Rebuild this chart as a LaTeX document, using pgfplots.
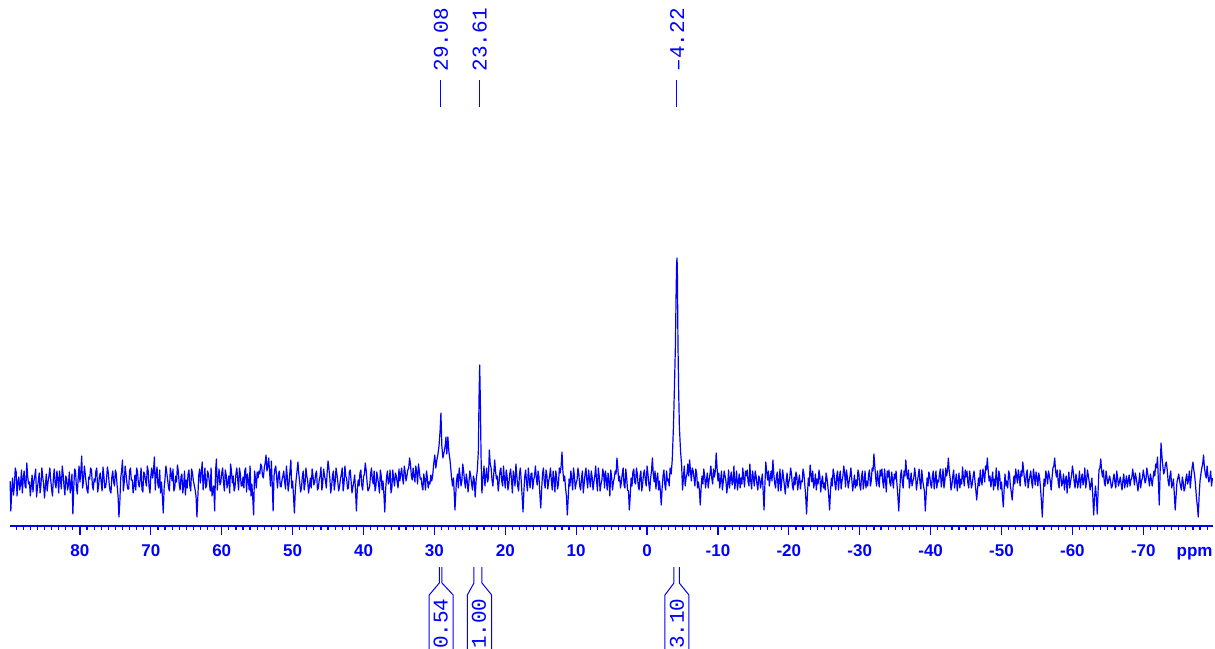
\documentclass[border=0pt]{standalone}
\usepackage{pgfplots}
\pgfplotsset{compat=1.18}
\usepackage{pgfplotstable}
\usepackage{fontspec}
\setmainfont{Liberation Sans}
\newfontfamily\monofont{Liberation Mono}

% 13C spectrum: chemical shift (ppm) vs. intensity, main sampling
\pgfplotstableread[row sep=\\]{
x y\\
89.85 45\\ 89.75 15\\ 89.5 48\\ 89.25 40\\ 89 54\\ 88.75 44\\ 88.5 36\\ 88.25 56\\ 88 47\\ 87.75 40\\
87.5 63\\ 87.25 42\\ 87 30\\ 86.75 51\\ 86.5 45\\ 86.25 57\\ 86 38\\ 85.75 53\\ 85.5 41\\ 85.25 49\\ 85 28\\
84.75 52\\ 84.5 44\\ 84.25 58\\ 84 37\\ 83.75 48\\ 83.5 42\\ 83.25 55\\ 83 33\\ 82.75 46\\ 82.5 60\\
82.25 40\\ 82 50\\ 81.75 36\\ 81.5 54\\ 81.25 41\\ 81 12\\ 80.75 57\\ 80.5 39\\ 80.25 48\\ 80 44\\
79.75 70\\ 79.5 45\\ 79.25 52\\ 79 36\\ 78.75 49\\ 78.5 58\\ 78.25 41\\ 78 47\\ 77.75 55\\ 77.5 34\\
77.25 50\\ 77 43\\ 76.75 59\\ 76.5 38\\ 76.25 47\\ 76 53\\ 75.75 35\\ 75.5 49\\ 75.25 44\\ 75 56\\
74.75 40\\ 74.5 9\\ 74.25 48\\ 74 66\\ 73.75 44\\ 73.5 52\\ 73.25 37\\ 73 55\\ 72.75 46\\ 72.5 33\\
72.25 51\\ 72 58\\ 71.75 42\\ 71.5 47\\ 71.25 36\\ 71 54\\ 70.75 45\\ 70.5 60\\ 70.25 39\\ 70 50\\
69.75 48\\ 69.5 69\\ 69.25 52\\ 69 41\\ 68.75 56\\ 68.5 44\\ 68.25 13\\ 68 47\\ 67.75 53\\ 67.5 38\\
67.25 58\\ 67 45\\ 66.75 35\\ 66.5 50\\ 66.25 61\\ 66 42\\ 65.75 49\\ 65.5 33\\ 65.25 55\\ 65 46\\
64.75 52\\ 64.5 40\\ 64.25 57\\ 64 45\\ 63.75 36\\ 63.5 9\\ 63.25 50\\ 63 43\\ 62.75 64\\ 62.5 47\\
62.25 38\\ 62 55\\ 61.75 44\\ 61.5 58\\ 61.25 36\\ 61 15\\ 60.75 67\\ 60.5 48\\ 60.25 41\\ 60 53\\
59.75 44\\ 59.5 56\\ 59.25 38\\ 59 50\\ 58.75 62\\ 58.5 43\\ 58.25 35\\ 58 52\\ 57.75 47\\ 57.5 58\\
57.25 40\\ 57 49\\ 56.75 55\\ 56.5 34\\ 56.25 46\\ 56 60\\ 55.75 42\\ 55.5 11\\ 55.25 48\\ 55 54\\
54.75 55\\ 54.5 62\\ 54.25 50\\ 54 58\\ 53.75 71\\ 53.5 60\\ 53.25 54\\ 53 65\\ 52.75 15\\ 52.5 57\\
52.25 48\\ 52 52\\ 51.75 40\\ 51.5 46\\ 51.25 55\\ 51 37\\ 50.75 49\\ 50.5 43\\ 50.25 66\\ 50 45\\
49.75 13\\ 49.5 47\\ 49.25 64\\ 49 44\\ 48.75 38\\ 48.5 55\\ 48.25 42\\ 48 50\\ 47.75 33\\ 47.5 48\\
47.25 57\\ 47 41\\ 46.75 52\\ 46.5 36\\ 46.25 46\\ 46 59\\ 45.75 43\\ 45.5 50\\ 45.25 38\\ 45 65\\
44.75 48\\ 44.5 40\\ 44.25 55\\ 44 44\\ 43.75 52\\ 43.5 35\\ 43.25 47\\ 43 58\\ 42.75 42\\ 42.5 50\\
42.25 37\\ 42 54\\ 41.75 45\\ 41.5 39\\ 41.25 51\\ 41 15\\ 40.75 46\\ 40.5 53\\ 40.25 41\\ 40 49\\
39.75 63\\ 39.5 44\\ 39.25 37\\ 39 52\\ 38.75 46\\ 38.5 55\\ 38.25 40\\ 38 48\\ 37.75 33\\ 37.5 50\\
37.25 45\\ 37 14\\ 36.75 49\\ 36.5 42\\ 36.25 56\\ 36 38\\ 35.75 47\\ 35.5 53\\ 35.25 44\\ 35 57\\
34.75 52\\ 34.5 48\\ 34.25 60\\ 34 45\\ 33.75 56\\ 33.5 68\\ 33.25 50\\ 33 58\\ 32.75 44\\ 32.5 54\\
32.25 62\\ 32 47\\ 31.75 40\\ 31.5 52\\ 31.25 36\\ 31 49\\ 30.75 44\\ 30.5 51\\
30.25 50\\ 30.1 62\\ 29.95 71\\ 29.8 58\\ 29.65 66\\ 29.5 72\\ 29.35 80\\ 29.2 95\\ 29.08 113\\ 28.95 80\\
28.8 68\\ 28.6 75\\ 28.45 82\\ 28.37 89\\ 28.25 72\\ 28.1 89\\ 27.95 74\\ 27.8 66\\ 27.6 50\\ 27.45 40\\
27.3 48\\ 27.1 16\\ 26.9 44\\ 26.75 52\\
26.5 58\\ 26.25 40\\ 26 62\\ 25.75 45\\ 25.5 52\\ 25.25 34\\ 25 55\\ 24.75 42\\ 24.5 50\\ 24.25 29\\ 24.1 47\\
23.95 55\\ 23.8 75\\ 23.7 130\\ 23.61 161\\ 23.52 125\\ 23.42 70\\ 23.3 33\\ 23.15 48\\ 23 60\\
22.75 50\\ 22.5 44\\ 22.25 76\\ 22 58\\ 21.75 40\\ 21.5 66\\ 21.25 47\\
21 35\\ 20.75 55\\ 20.5 45\\ 20.25 60\\ 20 38\\ 19.75 50\\ 19.5 42\\ 19.25 57\\ 19 33\\ 18.75 48\\
18.5 62\\ 18.25 40\\ 18 52\\ 17.75 45\\ 17.5 14\\ 17.25 50\\
17 43\\ 16.75 58\\ 16.5 38\\ 16.25 53\\ 16 46\\ 15.75 60\\ 15.5 41\\ 15.25 49\\ 15 18\\ 14.75 52\\
14.5 44\\ 14.25 56\\ 14 37\\ 13.75 50\\ 13.5 45\\ 13.25 55\\ 13 34\\ 12.75 48\\ 12.5 42\\ 12.25 53\\ 12 74\\
11.75 45\\ 11.5 38\\ 11.25 11\\ 11 47\\ 10.75 55\\ 10.5 36\\ 10.25 50\\ 10 43\\ 9.75 58\\ 9.5 40\\
9.25 48\\ 9 33\\ 8.75 52\\ 8.5 46\\ 8.25 56\\ 8 39\\ 7.75 49\\ 7.5 44\\ 7.25 60\\ 7 35\\
6.75 50\\ 6.5 42\\ 6.25 57\\ 6 38\\ 5.75 47\\ 5.5 53\\ 5.25 30\\ 5 49\\ 4.75 44\\ 4.5 55\\
4.25 68\\ 4 45\\ 3.75 38\\ 3.5 52\\ 3.25 41\\ 3 57\\ 2.75 36\\ 2.5 16\\ 2.25 48\\ 2 54\\
1.75 44\\ 1.5 58\\ 1.25 40\\ 1 50\\ 0.75 35\\ 0.5 52\\ 0.25 46\\ 0 60\\ -0.25 42\\ -0.5 48\\
-0.75 68\\ -1 44\\ -1.25 37\\ -1.5 53\\ -1.75 45\\ -2 21\\ -2.25 50\\ -2.5 42\\ -2.75 55\\ -3 47\\ -3.25 58\\ -3.4 52\\
-3.55 66\\ -3.72 99\\ -3.84 133\\ -4 181\\ -4.1 235\\ -4.17 262\\ -4.22 268\\ -4.27 258\\ -4.36 181\\ -4.46 133\\
-4.56 99\\ -4.72 75\\ -4.88 60\\ -5 36\\
-5.25 60\\ -5.5 48\\ -5.75 62\\ -6 66\\ -6.25 45\\ -6.5 55\\ -6.75 40\\ -7 52\\ -7.25 44\\ -7.5 21\\
-7.75 50\\ -8 57\\ -8.25 38\\ -8.5 53\\ -8.75 46\\ -9 60\\ -9.25 42\\ -9.5 49\\ -9.75 73\\ -10 45\\
-10.25 38\\ -10.5 55\\ -10.75 44\\ -11 50\\ -11.25 33\\ -11.5 56\\ -11.75 47\\ -12 41\\ -12.25 60\\ -12.5 45\\
-12.75 36\\ -13 52\\ -13.25 48\\ -13.5 58\\ -13.75 39\\ -14 50\\ -14.25 44\\ -14.5 62\\ -14.75 37\\ -15 48\\
-15.25 55\\ -15.5 42\\ -15.75 50\\ -16 38\\ -16.25 52\\ -16.5 16\\ -16.75 64\\ -17 46\\ -17.25 40\\ -17.5 55\\
-17.75 66\\ -18 43\\ -18.25 50\\ -18.5 35\\ -18.75 57\\ -19 45\\ -19.25 48\\ -19.5 32\\ -19.75 53\\ -20 44\\
-20.25 58\\ -20.5 40\\ -20.75 49\\ -21 54\\ -21.25 36\\ -21.5 51\\ -21.75 45\\ -22 57\\ -22.25 41\\ -22.5 12\\
-22.75 48\\ -23 61\\ -23.25 44\\ -23.5 38\\ -23.75 52\\ -24 47\\ -24.25 56\\ -24.5 34\\ -24.75 50\\ -25 43\\
-25.25 53\\ -25.5 40\\ -25.75 16\\ -26 48\\ -26.25 57\\ -26.5 42\\ -26.75 50\\ -27 36\\ -27.25 55\\ -27.5 45\\
-27.75 60\\ -28 39\\ -28.25 49\\ -28.5 44\\ -28.75 58\\ -29 35\\ -29.25 51\\ -29.5 46\\ -29.75 56\\ -30 41\\
-30.25 49\\ -30.5 37\\ -30.75 55\\ -31 45\\ -31.25 52\\ -31.5 40\\ -31.75 58\\ -32 72\\ -32.25 48\\ -32.5 55\\
-32.75 39\\ -33 50\\ -33.25 44\\ -33.5 57\\ -33.75 34\\ -34 49\\ -34.25 43\\ -34.5 54\\ -34.75 38\\ -35 47\\
-35.25 42\\ -35.5 15\\ -35.75 50\\ -36 44\\ -36.25 55\\ -36.5 66\\ -36.75 47\\ -37 38\\ -37.25 53\\ -37.5 45\\
-37.75 58\\ -38 36\\ -38.25 50\\ -38.5 43\\ -38.75 56\\ -39 40\\ -39.25 15\\ -39.5 48\\ -39.75 54\\ -40 42\\
-40.25 50\\ -40.5 37\\ -40.75 55\\ -41 46\\ -41.25 52\\ -41.5 39\\ -41.75 57\\ -42 44\\ -42.25 50\\ -42.5 68\\
-42.75 48\\ -43 41\\ -43.25 56\\ -43.5 45\\ -43.75 35\\ -44 53\\ -44.25 47\\ -44.5 59\\ -44.75 40\\ -45 49\\
-45.25 43\\ -45.5 55\\ -45.75 38\\ -46 50\\ -46.25 45\\ -46.5 26\\ -46.75 48\\ -47 56\\ -47.25 41\\ -47.5 52\\
-47.75 60\\ -48 68\\ -48.25 45\\ -48.5 39\\ -48.75 54\\ -49 47\\ -49.25 58\\ -49.5 36\\ -49.75 50\\ -50 44\\
-50.25 19\\ -50.5 52\\ -50.75 45\\ -51 55\\ -51.25 40\\ -51.5 26\\ -51.75 50\\ -52 57\\ -52.25 43\\ -52.5 49\\
-52.75 55\\ -53 64\\ -53.25 46\\ -53.5 52\\ -53.75 38\\ -54 50\\ -54.25 44\\ -54.5 57\\ -54.75 41\\ -55 48\\
-55.25 53\\ -55.5 38\\ -55.75 9\\ -56 47\\ -56.25 55\\ -56.5 42\\ -56.75 50\\ -57 36\\ -57.25 58\\ -57.5 68\\
-57.75 49\\ -58 43\\ -58.25 56\\ -58.5 40\\ -58.75 52\\ -59 46\\ -59.25 33\\ -59.5 54\\ -59.75 45\\ -60 60\\
-60.25 44\\ -60.5 52\\ -60.75 38\\ -61 55\\ -61.25 47\\ -61.5 41\\ -61.75 58\\ -62 45\\ -62.25 50\\ -62.5 36\\
-62.75 48\\ -63 11\\ -63.25 40\\ -63.5 12\\ -63.75 56\\ -64 67\\ -64.25 49\\ -64.5 44\\ -64.75 55\\ -65 42\\
-65.25 50\\ -65.5 38\\ -65.75 47\\ -66 43\\ -66.25 55\\ -66.5 40\\ -66.75 49\\ -67 36\\ -67.25 52\\ -67.5 44\\
-67.75 39\\ -68 51\\ -68.25 46\\ -68.5 57\\ -68.75 41\\ -69 48\\ -69.25 35\\ -69.5 53\\ -69.75 45\\ -70 56\\
-70.25 43\\ -70.5 58\\ -70.75 47\\ -71 52\\ -71.25 40\\ -71.5 55\\ -71.75 62\\ -72 69\\ -72.25 21\\ -72.5 83\\
-72.75 60\\ -73 55\\ -73.25 64\\ -73.5 45\\ -73.75 50\\ -74 38\\ -74.25 47\\ -74.5 16\\ -74.75 44\\ -75 52\\
-75.25 40\\ -75.5 49\\ -75.75 35\\ -76 47\\ -76.25 42\\ -76.5 55\\ -76.75 48\\ -77 64\\ -77.25 50\\ -77.5 28\\
-77.75 9\\ -78 45\\ -78.25 58\\ -78.5 71\\ -78.75 52\\ -79 60\\ -79.25 44\\ -79.5 55\\ -79.75 48\\
}\spectrum

% intermediate samples of the baseline noise (away from the resonances)
\pgfplotstableread[row sep=\\]{
x y\\
89.625 36\\ 89.375 31\\ 89.125 58\\ 88.875 30\\ 88.625 49\\ 88.375 42\\ 88.125 33\\ 87.875 55\\ 87.625 38\\ 87.375 50\\
87.125 44\\ 86.875 40\\ 86.625 34\\ 86.375 50\\ 86.125 29\\ 85.875 45\\ 85.625 33\\ 85.375 58\\ 85.125 42\\
84.875 40\\ 84.625 35\\ 84.375 50\\ 84.125 46\\ 83.875 30\\ 83.625 57\\ 83.375 38\\ 83.125 48\\ 82.875 55\\ 82.625 37\\
82.375 52\\ 82.125 31\\ 81.875 47\\ 81.625 41\\ 81.375 33\\ 81.125 52\\ 80.875 38\\ 80.625 55\\ 80.375 32\\ 80.125 60\\
79.875 55\\ 79.625 38\\ 79.375 60\\ 79.125 43\\ 78.875 33\\ 78.625 47\\ 78.375 56\\ 78.125 36\\ 77.875 44\\ 77.625 58\\
77.375 40\\ 77.125 53\\ 76.875 35\\ 76.625 50\\ 76.375 39\\ 76.125 59\\ 75.875 42\\ 75.625 33\\ 75.375 55\\ 75.125 40\\
74.875 52\\ 74.625 30\\ 74.375 24\\ 74.125 55\\ 73.875 35\\ 73.625 60\\ 73.375 43\\ 73.125 37\\ 72.875 58\\ 72.625 46\\
72.375 40\\ 72.125 36\\ 71.875 54\\ 71.625 39\\ 71.375 58\\ 71.125 34\\ 70.875 52\\ 70.625 40\\ 70.375 55\\ 70.125 33\\
69.875 58\\ 69.625 55\\ 69.375 36\\ 69.125 59\\ 68.875 38\\ 68.625 33\\ 68.375 30\\ 68.125 38\\ 67.875 60\\ 67.625 46\\
67.375 35\\ 67.125 52\\ 66.875 57\\ 66.625 38\\ 66.375 44\\ 66.125 55\\ 65.875 36\\ 65.625 52\\ 65.375 40\\ 65.125 31\\
64.875 38\\ 64.625 56\\ 64.375 35\\ 64.125 53\\ 63.875 41\\ 63.625 30\\ 63.375 28\\ 63.125 57\\ 62.875 54\\ 62.625 36\\
62.375 58\\ 62.125 41\\ 61.875 52\\ 61.625 35\\ 61.375 30\\ 61.125 40\\ 60.875 55\\ 60.625 36\\ 60.375 57\\ 60.125 44\\
59.875 58\\ 59.625 35\\ 59.375 51\\ 59.125 44\\ 58.875 33\\ 58.625 55\\ 58.375 50\\ 58.125 39\\ 57.875 58\\ 57.625 36\\
57.375 52\\ 57.125 40\\ 56.875 38\\ 56.625 58\\ 56.375 52\\ 56.125 36\\ 55.875 30\\ 55.625 28\\ 55.375 55\\ 55.125 38\\
54.875 48\\ 54.625 52\\ 54.375 60\\ 54.125 48\\ 53.875 63\\ 53.625 55\\ 53.375 68\\ 53.125 40\\ 52.875 42\\ 52.625 50\\
52.375 60\\ 52.125 38\\ 51.875 55\\ 51.625 39\\ 51.375 50\\ 51.125 44\\ 50.875 60\\ 50.625 35\\ 50.375 55\\ 50.125 38\\
49.875 30\\ 49.625 35\\ 49.375 55\\ 49.125 52\\ 48.875 34\\ 48.625 50\\ 48.375 36\\ 48.125 58\\ 47.875 45\\ 47.625 40\\
47.375 38\\ 47.125 50\\ 46.875 44\\ 46.625 55\\ 46.375 38\\ 46.125 50\\ 45.875 36\\ 45.625 57\\ 45.375 46\\ 45.125 54\\
44.875 57\\ 44.625 33\\ 44.375 50\\ 44.125 36\\ 43.875 58\\ 43.625 44\\ 43.375 40\\ 43.125 52\\ 42.875 35\\ 42.625 60\\
42.375 47\\ 42.125 38\\ 41.875 56\\ 41.625 33\\ 41.375 44\\ 41.125 35\\ 40.875 37\\ 40.625 40\\ 40.375 56\\ 40.125 36\\
39.875 52\\ 39.625 56\\ 39.375 35\\ 39.125 40\\ 38.875 58\\ 38.625 42\\ 38.375 35\\ 38.125 54\\ 37.875 42\\ 37.625 56\\
37.375 36\\ 37.125 32\\ 36.875 37\\ 36.625 55\\ 36.375 45\\ 36.125 33\\ 35.875 56\\ 35.625 40\\ 35.375 50\\ 35.125 38\\
34.875 45\\ 34.625 58\\ 34.375 42\\ 34.125 54\\ 33.875 50\\ 33.625 58\\ 33.375 62\\ 33.125 46\\ 32.875 50\\ 32.625 60\\
32.375 42\\ 32.125 55\\ 31.875 48\\ 31.625 36\\ 31.375 46\\ 31.125 55\\ 30.875 38\\ 30.625 42\\ 30.375 45\\
26.625 38\\ 26.375 50\\ 26.125 45\\ 25.875 55\\ 25.625 38\\ 25.375 45\\ 25.125 44\\ 24.875 50\\ 24.625 36\\ 24.375 46\\
22.875 40\\ 22.625 58\\ 22.375 48\\ 22.125 62\\ 21.875 46\\ 21.625 52\\ 21.375 55\\ 21.125 50\\
20.875 44\\ 20.625 58\\ 20.375 40\\ 20.125 47\\ 19.875 56\\ 19.625 36\\ 19.375 52\\ 19.125 46\\ 18.875 55\\ 18.625 40\\
18.375 50\\ 18.125 35\\ 17.875 58\\ 17.625 30\\ 17.375 35\\ 17.125 56\\
16.875 35\\ 16.625 47\\ 16.375 52\\ 16.125 37\\ 15.875 50\\ 15.625 48\\ 15.375 55\\ 15.125 32\\ 14.875 36\\ 14.625 58\\
14.375 38\\ 14.125 50\\ 13.875 45\\ 13.625 58\\ 13.375 36\\ 13.125 47\\ 12.875 55\\ 12.625 37\\ 12.375 58\\ 12.125 60\\
11.875 55\\ 11.625 50\\ 11.375 30\\ 11.125 28\\ 10.875 40\\ 10.625 47\\ 10.375 58\\ 10.125 37\\ 9.875 46\\ 9.625 52\\
9.375 36\\ 9.125 55\\ 8.875 42\\ 8.625 58\\ 8.375 38\\ 8.125 47\\ 7.875 55\\ 7.625 36\\ 7.375 50\\ 7.125 45\\
6.875 58\\ 6.625 35\\ 6.375 46\\ 6.125 52\\ 5.875 55\\ 5.625 36\\ 5.375 45\\ 5.125 56\\ 4.875 36\\ 4.625 48\\
4.375 52\\ 4.125 58\\ 3.875 50\\ 3.625 44\\ 3.375 58\\ 3.125 38\\ 2.875 48\\ 2.625 35\\ 2.375 30\\ 2.125 40\\
1.875 57\\ 1.625 42\\ 1.375 52\\ 1.125 36\\ 0.875 55\\ 0.625 42\\ 0.375 56\\ 0.125 40\\ -0.125 52\\ -0.375 35\\
-0.625 55\\ -0.875 52\\ -1.125 55\\ -1.375 48\\ -1.625 36\\ -1.875 35\\ -2.125 38\\ -2.375 56\\ -2.625 36\\ -2.875 45\\ -3.125 40\\
-5.125 48\\ -5.375 40\\ -5.625 52\\ -5.875 50\\ -6.125 55\\ -6.375 58\\ -6.625 48\\ -6.875 57\\ -7.125 38\\ -7.375 36\\
-7.625 38\\ -7.875 42\\ -8.125 50\\ -8.375 46\\ -8.625 38\\ -8.875 52\\ -9.125 48\\ -9.375 57\\ -9.625 55\\ -9.875 58\\
-10.125 53\\ -10.375 46\\ -10.625 36\\ -10.875 55\\ -11.125 45\\ -11.375 42\\ -11.625 38\\ -11.875 54\\ -12.125 45\\ -12.375 37\\
-12.625 55\\ -12.875 44\\ -13.125 38\\ -13.375 42\\ -13.625 48\\ -13.875 55\\ -14.125 56\\ -14.375 40\\ -14.625 45\\ -14.875 55\\
-15.125 40\\ -15.375 50\\ -15.625 36\\ -15.875 48\\ -16.125 44\\ -16.375 35\\ -16.625 42\\ -16.875 54\\ -17.125 55\\ -17.375 48\\
-17.625 45\\ -17.875 52\\ -18.125 38\\ -18.375 54\\ -18.625 44\\ -18.875 35\\ -19.125 56\\ -19.375 40\\ -19.625 46\\ -19.875 38\\
-20.125 48\\ -20.375 52\\ -20.625 36\\ -20.875 41\\ -21.125 50\\ -21.375 45\\ -21.625 37\\ -21.875 44\\ -22.125 52\\ -22.375 30\\
-22.625 32\\ -22.875 40\\ -23.125 52\\ -23.375 55\\ -23.625 43\\ -23.875 36\\ -24.125 42\\ -24.375 50\\ -24.625 45\\ -24.875 38\\
-25.125 36\\ -25.375 48\\ -25.625 30\\ -25.875 35\\ -26.125 40\\ -26.375 52\\ -26.625 36\\ -26.875 55\\ -27.125 48\\ -27.375 37\\
-27.625 50\\ -27.875 52\\ -28.125 56\\ -28.375 38\\ -28.625 50\\ -28.875 47\\ -29.125 42\\ -29.375 38\\ -29.625 40\\ -29.875 52\\
-30.125 36\\ -30.375 55\\ -30.625 44\\ -30.875 38\\ -31.125 40\\ -31.375 56\\ -31.625 45\\ -31.875 55\\ -32.125 60\\ -32.375 40\\
-32.625 46\\ -32.875 56\\ -33.125 57\\ -33.375 38\\ -33.625 46\\ -33.875 55\\ -34.125 56\\ -34.375 40\\ -34.625 46\\ -34.875 52\\
-35.125 55\\ -35.375 30\\ -35.625 33\\ -35.875 56\\ -36.125 38\\ -36.375 50\\ -36.625 52\\ -36.875 56\\ -37.125 45\\ -37.375 40\\
-37.625 48\\ -37.875 50\\ -38.125 44\\ -38.375 57\\ -38.625 37\\ -38.875 46\\ -39.125 35\\ -39.375 32\\ -39.625 40\\ -39.875 50\\
-40.125 38\\ -40.375 55\\ -40.625 46\\ -40.875 38\\ -41.125 44\\ -41.375 57\\ -41.625 46\\ -41.875 38\\ -42.125 58\\ -42.375 55\\
-42.625 55\\ -42.875 36\\ -43.125 50\\ -43.375 38\\ -43.625 52\\ -43.875 44\\ -44.125 38\\ -44.375 42\\ -44.625 48\\ -44.875 56\\
-45.125 55\\ -45.375 38\\ -45.625 48\\ -45.875 42\\ -46.125 55\\ -46.375 36\\ -46.625 37\\ -46.875 40\\ -47.125 45\\ -47.375 57\\
-47.625 44\\ -47.875 56\\ -48.125 55\\ -48.375 50\\ -48.625 46\\ -48.875 36\\ -49.125 40\\ -49.375 46\\ -49.625 55\\ -49.875 37\\
-50.125 30\\ -50.375 38\\ -50.625 40\\ -50.875 38\\ -51.125 52\\ -51.375 34\\ -51.625 38\\ -51.875 42\\ -52.125 50\\ -52.375 56\\
-52.625 40\\ -52.875 50\\ -53.125 55\\ -53.375 40\\ -53.625 56\\ -53.875 45\\ -54.125 55\\ -54.375 38\\ -54.625 50\\ -54.875 54\\
-55.125 40\\ -55.375 48\\ -55.625 25\\ -55.875 30\\ -56.125 40\\ -56.375 50\\ -56.625 55\\ -56.875 45\\ -57.125 48\\ -57.375 60\\
-57.625 55\\ -57.875 56\\ -58.125 38\\ -58.375 50\\ -58.625 44\\ -58.875 36\\ -59.125 50\\ -59.375 45\\ -59.625 38\\ -59.875 50\\
-60.125 54\\ -60.375 38\\ -60.625 46\\ -60.875 45\\ -61.125 38\\ -61.375 52\\ -61.625 46\\ -61.875 38\\ -62.125 56\\ -62.375 44\\
-62.625 42\\ -62.875 30\\ -63.125 28\\ -63.375 30\\ -63.625 35\\ -63.875 58\\ -64.125 55\\ -64.375 56\\ -64.625 40\\ -64.875 48\\
-65.125 46\\ -65.375 45\\ -65.625 40\\ -65.875 52\\ -66.125 38\\ -66.375 48\\ -66.625 44\\ -66.875 42\\ -67.125 46\\ -67.375 38\\
-67.625 50\\ -67.875 45\\ -68.125 40\\ -68.375 48\\ -68.625 50\\ -68.875 53\\ -69.125 42\\ -69.375 44\\ -69.625 38\\ -69.875 48\\
-70.125 50\\ -70.375 46\\ -70.625 52\\ -70.875 40\\ -71.125 47\\ -71.375 48\\ -71.625 50\\ -71.875 58\\ -72.125 45\\ -72.375 55\\
-72.625 70\\ -72.875 52\\ -73.125 62\\ -73.375 56\\ -73.625 40\\ -73.875 55\\ -74.125 42\\ -74.375 32\\ -74.625 30\\ -74.875 48\\
-75.125 45\\ -75.375 36\\ -75.625 44\\ -75.875 38\\ -76.125 52\\ -76.375 46\\ -76.625 38\\ -76.875 58\\ -77.125 56\\ -77.375 40\\
-77.625 20\\ -77.875 30\\ -78.125 52\\ -78.375 62\\ -78.625 58\\ -78.875 48\\ -79.125 50\\ -79.375 48\\ -79.625 40\\
}\midsamples

% merge both samplings and order them by decreasing shift
\pgfplotstablevertcat{\spectrum}{\midsamples}
\pgfplotstablesort[sort key=x, sort cmp=float >]{\spectrumsorted}{\spectrum}

% peak pick: position #1, printed text #2
\newcommand\peaklabel[2]{%
  \draw[blue, line width=0.5pt] (axis cs:#1,419) -- (axis cs:#1,446);
  \node[rotate=90, anchor=west, inner sep=0pt, xshift=0.6pt, text=blue,
        font=\monofont\fontsize{10.5}{12}\selectfont] at (axis cs:#1,453) {#2};
}
% integral region: inner limits #1,#2; bracket box #3,#4; text centre #5; value #6
\newcommand\integral[6]{%
  \draw[blue, line width=0.5pt] (axis cs:#1,-41) -- (axis cs:#1,-57) -- (axis cs:#3,-69) -- (axis cs:#3,-130);
  \draw[blue, line width=0.5pt] (axis cs:#2,-41) -- (axis cs:#2,-57) -- (axis cs:#4,-69) -- (axis cs:#4,-130);
  \node[rotate=90, anchor=east, inner sep=0pt, text=blue,
        font=\monofont\fontsize{10.5}{12}\selectfont] at (axis cs:#5,-72) {#6};
}

\begin{document}
\begin{tikzpicture}
\useasboundingbox (0,0) rectangle (607.5pt,324pt);
\begin{axis}[
  at={(5pt,61pt)}, anchor=south west,
  scale only axis, width=601.5pt, height=263pt,
  xmin=-79.83, xmax=89.87, ymin=0, ymax=526,
  x dir=reverse,
  axis x line*=bottom, axis y line=none,
  axis line style={-, blue, line width=0.75pt},
  xtick={-70,-60,...,80},
  minor xtick={-79,-78,...,89},
  tick align=outside,
  major tick length=4.5pt, minor tick length=2pt,
  every tick/.style={blue, line width=0.6pt},
  xticklabel style={font=\bfseries\fontsize{8.5}{10}\selectfont, text=blue, yshift=-1.5pt},
  /pgf/number format/assume math mode=true,
  clip=false,
]
\addplot[blue, line width=0.6pt, line join=round, no marks] table[x=x, y=y] {\spectrumsorted};

\peaklabel{29.08}{29.08}
\peaklabel{23.61}{23.61}
\peaklabel{-4.22}{–4.22}

\integral{29.31}{28.93}{30.73}{27.35}{29.1}{0.54}
\integral{24.42}{23.29}{25.36}{21.92}{23.7}{1.00}
\integral{-3.79}{-4.54}{-2.52}{-5.91}{-4.2}{3.10}

\node[anchor=base east, inner sep=0pt, text=blue, font=\bfseries\fontsize{8.5}{10}\selectfont]
  at (rel axis cs:1,0) [yshift=-15.5pt] {ppm};
\end{axis}
\end{tikzpicture}
\end{document}
